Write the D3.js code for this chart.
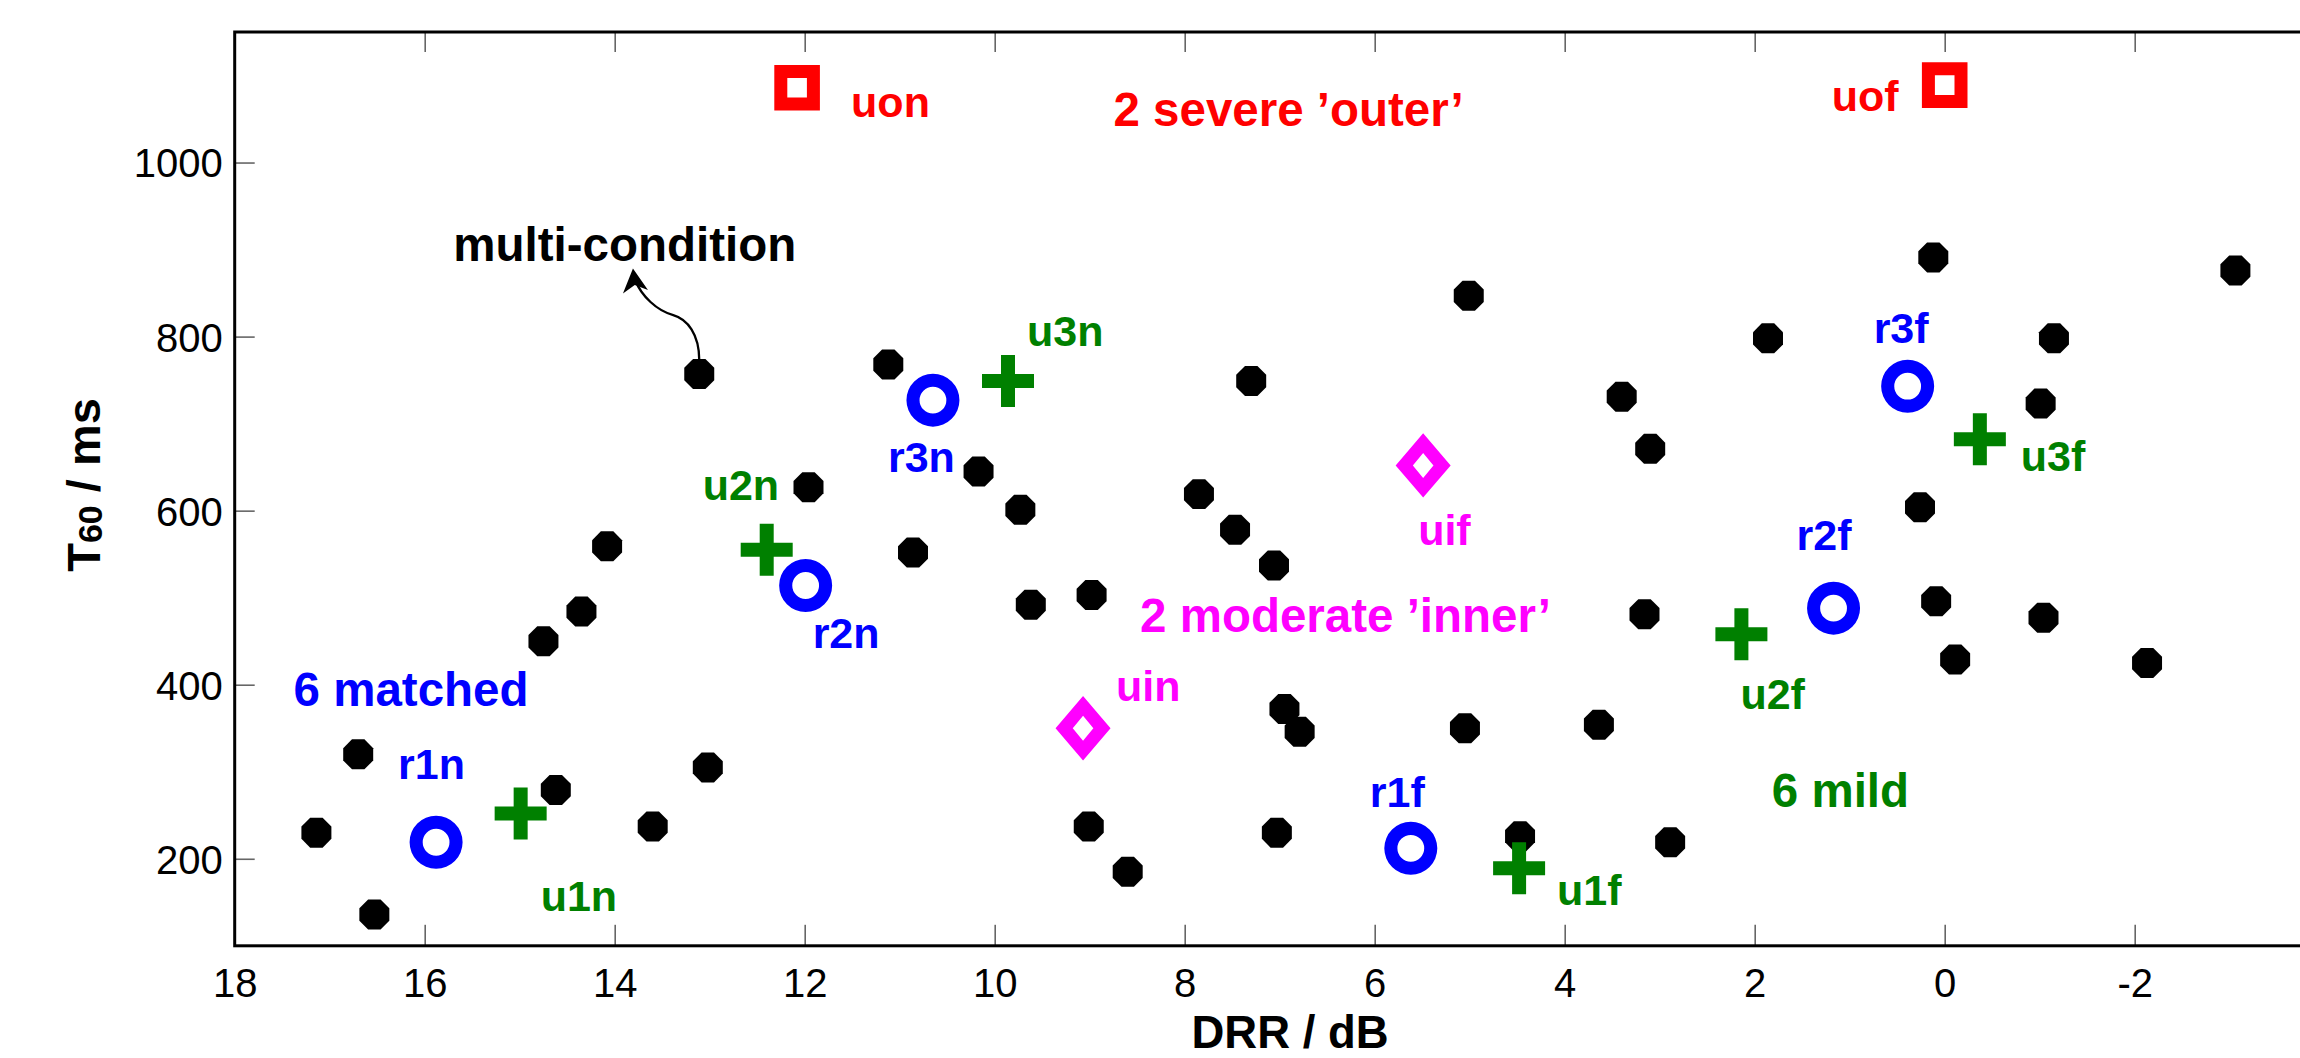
<!DOCTYPE html>
<html>
<head>
<meta charset="utf-8">
<script src="https://cdn.jsdelivr.net/npm/d3@7/dist/d3.min.js"></script>
<style>
  html, body { margin: 0; padding: 0; background: #ffffff; }
  svg { display: block; }
  text { font-family: "Liberation Sans", Arial, Helvetica, sans-serif; }
</style>
</head>
<body>
<svg id="chart" width="2300" height="1058"></svg>
<script>
// ---------------- data ----------------
// training rooms (multi-condition set): DRR in dB, T60 in ms
const rirDRR = [17.14, 16.70, 16.53, 14.75, 14.62, 14.35, 14.08, 13.60, 13.11, 13.02,
                11.96, 11.12, 10.86, 10.17, 9.73, 9.62, 8.98, 9.01, 8.60, 7.85,
                7.30, 7.47, 7.06, 6.95, 6.79, 7.03, 5.01, 5.05, 4.47, 3.64,
                3.40, 3.10, 3.16, 2.89, 1.86, 0.12, 0.26, 0.09, -0.11, -1.01,
                -1.15, -1.04, -2.13, -3.06];
const rirT60 = [230, 320, 136, 450, 279, 484, 559, 237, 757, 305,
                627, 768, 552, 645, 601, 492, 503, 237, 185, 619,
                749, 578, 537, 372, 346, 230, 847, 350, 226, 354,
                731, 671, 481, 219, 798, 891, 604, 496, 429, 723,
                798, 477, 425, 876];

// test conditions
const testNames  = ["r1n", "r2n", "r3n", "r1f", "r2f", "r3f",
                    "u1n", "u2n", "u3n", "u1f", "u2f", "u3f",
                    "uin", "uif", "uon", "uof"];
const testGroups = ["matched", "matched", "matched", "matched", "matched", "matched",
                    "mild", "mild", "mild", "mild", "mild", "mild",
                    "inner", "inner", "outer", "outer"];
const testDRR    = [15.88, 11.99, 10.65, 5.62, 1.17, 0.39,
                    14.99, 12.40, 9.86, 4.48, 2.14, -0.37,
                    9.07, 5.49, 12.08, 0.00];
const testT60    = [219, 514, 727, 212, 488, 743,
                    252, 555, 749, 189, 458, 682,
                    350, 652, 1086, 1089];

// group annotations
const groupKeys   = ["matched", "mild", "inner", "outer", "multi"];
const groupTexts  = ["6 matched", "6 mild", "2 moderate \u2019inner\u2019", "2 severe \u2019outer\u2019", "multi-condition"];

// axes
const xTicks = [18, 16, 14, 12, 10, 8, 6, 4, 2, 0, -2];
const yTicks = [200, 400, 600, 800, 1000];
const xTitle = "DRR / dB";
const yTitleMain = "T";
const yTitleSub = "60";
const yTitleRest = " / ms";

// ---------------- layout & style ----------------
const W = 2300, H = 1058;
const plot = { left: 234.7, right: 2324.7, top: 32, bottom: 945.8 };
const xDomain = [18, -4];
const yDomain = [100, 1150];

const colors = { matched: "#0000ff", mild: "#008000", inner: "#ff00ff", outer: "#ff0000", multi: "#000000" };

// where group annotations sit, in data coordinates [DRR, T60] (left edge / baseline)
const groupAnchor = {
  matched: [17.38, 376],
  mild:    [1.82, 259],
  inner:   [8.47, 461],
  outer:   [8.75, 1042],
  multi:   [15.70, 887]
};
// label offsets (px) from each test marker: [dx, dy, anchor]
const labelOffset = {
  r1n: [-38, -63, "start"], r2n: [7, 62, "start"], r3n: [-45, 72, "start"],
  r1f: [-41, -41, "start"], r2f: [-37, -58, "start"], r3f: [-34, -43, "start"],
  u1n: [20, 97, "start"], u2n: [-64, -50, "start"], u3n: [19, -35, "start"],
  u1f: [38, 37, "start"], u2f: [-1, 75, "start"], u3f: [41, 32, "start"],
  uin: [33, -27, "start"], uif: [-5, 80, "start"],
  uon: [54, 29, "start"], uof: [-46, 26, "end"]
};

// ---------------- scales ----------------
const x = d3.scaleLinear().domain(xDomain).range([plot.left, plot.right]);
const y = d3.scaleLinear().domain(yDomain).range([plot.bottom, plot.top]);

const svg = d3.select("#chart");
svg.append("rect").attr("width", W).attr("height", H).attr("fill", "#ffffff");

// ---------------- symbol types ----------------
const octagon = {
  draw(ctx, size) {
    const R = Math.sqrt(size / (2 * Math.SQRT2));
    for (let k = 0; k < 8; k++) {
      const a = Math.PI / 8 + k * Math.PI / 4;
      const px = R * Math.cos(a), py = R * Math.sin(a);
      if (k === 0) ctx.moveTo(px, py); else ctx.lineTo(px, py);
    }
    ctx.closePath();
  }
};
const ring = {
  draw(ctx) {
    const R = 26.5, r = 13.4;
    ctx.moveTo(R, 0); ctx.arc(0, 0, R, 0, 2 * Math.PI, false);
    ctx.moveTo(r, 0); ctx.arc(0, 0, r, 0, 2 * Math.PI, true);
    ctx.closePath();
  }
};
const plus = {
  draw(ctx) {
    const s = 26, t = 7;
    ctx.moveTo(-t, -s); ctx.lineTo(t, -s); ctx.lineTo(t, -t); ctx.lineTo(s, -t);
    ctx.lineTo(s, t); ctx.lineTo(t, t); ctx.lineTo(t, s); ctx.lineTo(-t, s);
    ctx.lineTo(-t, t); ctx.lineTo(-s, t); ctx.lineTo(-s, -t); ctx.lineTo(-t, -t);
    ctx.closePath();
  }
};
const hollowDiamond = {
  draw(ctx) {
    const ow = 27.5, oh = 32.2, iw = 10.3, ih = 12.5;
    ctx.moveTo(0, -oh); ctx.lineTo(ow, 0); ctx.lineTo(0, oh); ctx.lineTo(-ow, 0); ctx.closePath();
    ctx.moveTo(0, -ih); ctx.lineTo(-iw, 0); ctx.lineTo(0, ih); ctx.lineTo(iw, 0); ctx.closePath();
  }
};
const hollowSquare = {
  draw(ctx) {
    const o = 22.8, i = 9.8;
    ctx.moveTo(-o, -o); ctx.lineTo(o, -o); ctx.lineTo(o, o); ctx.lineTo(-o, o); ctx.closePath();
    ctx.moveTo(-i, -i); ctx.lineTo(-i, i); ctx.lineTo(i, i); ctx.lineTo(i, -i); ctx.closePath();
  }
};
const shapeOf = { matched: ring, mild: plus, inner: hollowDiamond, outer: hollowSquare };

// ---------------- axes ----------------
const tickColor = "#666666";
const fontTick = 40;
const fmt = d => d < 0 ? "-" + Math.abs(d) : String(d);

const xAxis = d3.axisBottom(x).tickValues(xTicks).tickSizeInner(-21).tickSizeOuter(0).tickFormat(fmt);
const gx = svg.append("g").attr("transform", `translate(0,${plot.bottom})`).call(xAxis);
gx.select(".domain").remove();
gx.selectAll(".tick line").attr("stroke", tickColor).attr("stroke-width", 1.6);
gx.selectAll(".tick text").attr("y", 51).attr("dy", null)
  .attr("font-size", fontTick).attr("fill", "#000").attr("font-family", null);

const xAxisTop = d3.axisTop(x).tickValues(xTicks).tickSizeInner(-20).tickSizeOuter(0).tickFormat("");
const gxt = svg.append("g").attr("transform", `translate(0,${plot.top})`).call(xAxisTop);
gxt.select(".domain").remove();
gxt.selectAll(".tick line").attr("stroke", tickColor).attr("stroke-width", 1.6);

const yAxis = d3.axisLeft(y).tickValues(yTicks).tickSizeInner(-20).tickSizeOuter(0).tickPadding(12).tickFormat(fmt);
const gy = svg.append("g").attr("transform", `translate(${plot.left},0)`).call(yAxis);
gy.select(".domain").remove();
gy.selectAll(".tick line").attr("stroke", tickColor).attr("stroke-width", 1.6);
gy.selectAll(".tick text").attr("dy", "0.36em")
  .attr("font-size", fontTick).attr("fill", "#000").attr("font-family", null);

// frame
svg.append("rect")
  .attr("x", plot.left).attr("y", plot.top)
  .attr("width", plot.right - plot.left).attr("height", plot.bottom - plot.top)
  .attr("fill", "none").attr("stroke", "#000").attr("stroke-width", 3);

// axis titles
svg.append("text")
  .attr("x", 1290).attr("y", 1047.5)
  .attr("text-anchor", "middle").attr("font-size", 45.5).attr("font-weight", "bold")
  .text(xTitle);

const yt = svg.append("text")
  .attr("transform", "translate(100,485) rotate(-90)")
  .attr("text-anchor", "middle").attr("font-size", 47).attr("font-weight", "bold");
yt.append("tspan").text(yTitleMain);
yt.append("tspan").attr("font-size", 34).attr("dy", 2).text(yTitleSub);
yt.append("tspan").attr("dy", -2).text(yTitleRest);

// ---------------- marks ----------------
const rirData = rirDRR.map((d, i) => ({ drr: d, t60: rirT60[i] }));
svg.append("g").selectAll("path").data(rirData).join("path")
  .attr("d", d3.symbol().type(octagon).size(745))
  .attr("transform", d => `translate(${x(d.drr)},${y(d.t60)})`)
  .attr("fill", "#000");

const testData = testNames.map((n, i) => ({ name: n, group: testGroups[i], drr: testDRR[i], t60: testT60[i] }));
svg.append("g").selectAll("path").data(testData).join("path")
  .attr("d", d => d3.symbol().type(shapeOf[d.group])())
  .attr("transform", d => `translate(${x(d.drr)},${y(d.t60)})`)
  .attr("fill", d => colors[d.group]);

svg.append("g").selectAll("text").data(testData).join("text")
  .attr("x", d => x(d.drr) + labelOffset[d.name][0])
  .attr("y", d => y(d.t60) + labelOffset[d.name][1])
  .attr("text-anchor", d => labelOffset[d.name][2])
  .attr("font-size", 43).attr("font-weight", "bold")
  .attr("fill", d => colors[d.group])
  .text(d => d.name);

// group annotations
svg.append("g").selectAll("text").data(groupKeys).join("text")
  .attr("x", k => x(groupAnchor[k][0]))
  .attr("y", k => y(groupAnchor[k][1]))
  .attr("font-size", 47.5).attr("font-weight", "bold")
  .attr("fill", k => colors[k])
  .text((k, i) => groupTexts[i]);

// arrow from the highlighted multi-condition room to its annotation
const hi = rirData[8];
const ax = x(hi.drr), ay = y(hi.t60);
svg.append("path")
  .attr("transform", `translate(${ax},${ay})`)
  .attr("d", "M0,-14 C0,-40 -12,-55 -26,-59 C-42,-63 -58,-78 -64,-94")
  .attr("fill", "none").attr("stroke", "#000").attr("stroke-width", 2.3);
svg.append("path")
  .attr("transform", `translate(${ax},${ay})`)
  .attr("d", "M-66.3,-105.6 L-51.3,-84 L-64.5,-89 L-76.3,-80.6 Z")
  .attr("fill", "#000");
</script>
</body>
</html>
